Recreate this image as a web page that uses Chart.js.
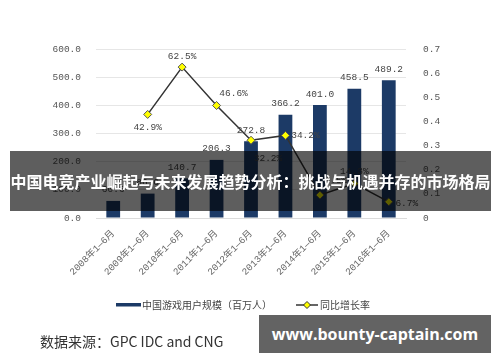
<!DOCTYPE html>
<html>
<head>
<meta charset="utf-8">
<script src="https://cdn.jsdelivr.net/npm/chart.js@4.4.1/dist/chart.umd.min.js"></script>
<style>
  html, body { margin: 0; padding: 0; background: #fff; }
  #wrap { position: relative; width: 500px; height: 362px; overflow: hidden; }
  #banner {
    position: absolute; left: 10px; top: 151px; width: 481px; height: 60px;
    background: rgba(0, 0, 0, 0.63); color: #fff;
    font: bold 16px "Noto Sans CJK SC", sans-serif;
    display: flex; align-items: center; justify-content: center; white-space: nowrap;
  }
  #mark {
    position: absolute; left: 259px; top: 315px; width: 232px; height: 38px;
    background: #636363; color: #fff;
    font: bold 16px "Open Sans", sans-serif;
    display: flex; align-items: center; justify-content: center; white-space: nowrap;
  }
</style>
</head>
<body>
<div id="wrap">
  <canvas id="chart" width="500" height="362"></canvas>
  <div id="banner">中国电竞产业崛起与未来发展趋势分析：挑战与机遇并存的市场格局</div>
  <div id="mark">www.bounty-captain.com</div>
</div>
<script>
// datos
const periods = ['2008年1—6月', '2009年1—6月', '2010年1—6月', '2011年1—6月', '2012年1—6月',
                 '2013年1—6月', '2014年1—6月', '2015年1—6月', '2016年1—6月'];
const userScale = [60.6, 86.6, 140.7, 206.3, 272.8, 366.2, 401.0, 458.5, 489.2];
const growthRate = [null, 0.429, 0.625, 0.466, 0.322, 0.342, 0.095, 0.143, 0.067];
const leftTicks = [0, 100, 200, 300, 400, 500, 600];
const rightTicks = [0, 0.1, 0.2, 0.3, 0.4, 0.5, 0.6, 0.7];
const seriesNames = ['中国游戏用户规模（百万人）', '同比增长率'];
const sourceText = '数据来源：GPC IDC and CNG';

const numFont = '"Liberation Mono", "Noto Sans CJK SC", monospace';
const cjkFont = '"Noto Sans CJK SC", sans-serif';

// donde va cada etiqueta de porcentaje respecto a su punto
const rateLabelShift = [null, [0, 13], [0, -11], [17, -12], [17, 18], [20, 0], [16, -15], [0, -12], [18, 2]];

const valueLabels = {
    id: 'valueLabels',
    afterDatasetsDraw(chart) {
        const ctx = chart.ctx;
        ctx.save();
        ctx.font = '9.5px ' + numFont;
        ctx.fillStyle = '#444';
        ctx.textAlign = 'center';
        ctx.textBaseline = 'middle';
        chart.getDatasetMeta(0).data.forEach((bar, i) => {
            ctx.fillText(userScale[i].toFixed(1), bar.x, bar.y - 11);
        });
        chart.getDatasetMeta(1).data.forEach((pt, i) => {
            if (growthRate[i] === null) return;
            const s = rateLabelShift[i];
            ctx.fillText((growthRate[i] * 100).toFixed(1) + '%', pt.x + s[0], pt.y + s[1]);
        });
        ctx.restore();
    },
    afterDraw(chart) {
        const ctx = chart.ctx;
        ctx.save();
        // leyenda
        ctx.fillStyle = '#1c3a66';
        ctx.fillRect(116, 303, 25, 3.5);
        ctx.font = '10px ' + cjkFont;
        ctx.fillStyle = '#444';
        ctx.textBaseline = 'middle';
        ctx.fillText(seriesNames[0], 142, 305);
        ctx.strokeStyle = '#333';
        ctx.lineWidth = 1.5;
        ctx.beginPath();
        ctx.moveTo(296, 305);
        ctx.lineTo(318, 305);
        ctx.stroke();
        ctx.beginPath();
        ctx.moveTo(307, 301.5); ctx.lineTo(310.5, 305); ctx.lineTo(307, 308.5); ctx.lineTo(303.5, 305);
        ctx.closePath();
        ctx.fillStyle = '#ffff00';
        ctx.fill();
        ctx.lineWidth = 1;
        ctx.stroke();
        ctx.fillStyle = '#444';
        ctx.fillText(seriesNames[1], 320, 305);
        // fuente
        ctx.font = '14px ' + cjkFont;
        ctx.fillStyle = '#333';
        ctx.fillText(sourceText, 40, 342);
        ctx.restore();
    }
};

const ctx = document.getElementById('chart').getContext('2d');
new Chart(ctx, {
    data: {
        labels: periods,
        datasets: [{
            type: 'bar',
            label: seriesNames[0],
            data: userScale,
            backgroundColor: '#1c3a66',
            categoryPercentage: 0.8,
            barPercentage: 0.5,
            yAxisID: 'y',
            order: 2
        }, {
            type: 'line',
            label: seriesNames[1],
            data: growthRate,
            borderColor: '#333',
            borderWidth: 1.5,
            pointStyle: 'rectRot',
            pointRadius: 4,
            pointBackgroundColor: '#ffff00',
            pointBorderColor: '#555',
            pointBorderWidth: 1,
            tension: 0,
            yAxisID: 'y1',
            order: 1
        }]
    },
    options: {
        responsive: false,
        animation: false,
        devicePixelRatio: 1,
        layout: { padding: { top: 49, left: 0, right: 0, bottom: 0 } },
        plugins: {
            legend: { display: false },
            tooltip: { enabled: false }
        },
        scales: {
            x: {
                grid: { display: false },
                border: { color: '#dcdcdc' },
                ticks: {
                    minRotation: 45, maxRotation: 45,
                    color: '#666',
                    font: { size: 9.5, family: numFont },
                    padding: 2
                },
                afterFit(s) { s.height = 144; }
            },
            y: {
                position: 'left',
                min: 0, max: 600,
                afterBuildTicks(s) { s.ticks = leftTicks.map(v => ({ value: v })); },
                grid: { color: '#e6e6e6', drawTicks: false },
                border: { display: false },
                ticks: {
                    color: '#555',
                    font: { size: 9.5, family: numFont },
                    padding: 15,
                    callback: v => v.toFixed(1)
                },
                afterFit(s) { s.width = 96; }
            },
            y1: {
                position: 'right',
                min: 0, max: 0.7,
                afterBuildTicks(s) { s.ticks = rightTicks.map(v => ({ value: v })); },
                grid: { display: false },
                border: { display: false },
                ticks: {
                    color: '#555',
                    font: { size: 9.5, family: numFont },
                    padding: 9,
                    callback: v => v === 0 ? '0' : v.toFixed(1)
                },
                afterFit(s) { s.width = 94; }
            }
        }
    },
    plugins: [valueLabels]
});
</script>
</body>
</html>
